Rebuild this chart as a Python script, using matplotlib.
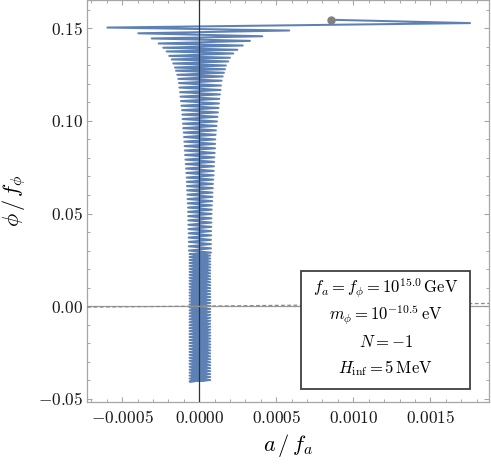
import matplotlib
matplotlib.use('Agg')
import matplotlib.pyplot as plt
from matplotlib.patches import Rectangle
from matplotlib.ticker import MultipleLocator

# turning points of the field trajectory (a/f_a, phi/f_phi)
upper_a = [0.000853, 0.001758, -0.000597, 0.000584, -0.000396, 0.000409, -0.000309, 0.000329,
           -0.000264, 0.000282, -0.000234, 0.000247, -0.000212, 0.000221, -0.000195, 0.000199,
           -0.000179, 0.000188, -0.000169, 0.000173, -0.000158, 0.000167, -0.000151, 0.000160,
           -0.000143, 0.000152, -0.000136, 0.000145, -0.000132, 0.000141, -0.000129, 0.000138,
           -0.000125, 0.000134, -0.000122, 0.000130, -0.000119, 0.000128, -0.000116, 0.000125,
           -0.000112, 0.000121, -0.000110, 0.000118, -0.000108, 0.000115, -0.000106, 0.000112,
           -0.000104, 0.000108, -0.000101, 0.000106, -0.000099, 0.000104, -0.000097, 0.000103,
           -0.000095, 0.000102, -0.000094, 0.000100, -0.000092, 0.000098, -0.000090, 0.000097,
           -0.000088, 0.000095, -0.000086, 0.000094, -0.000084, 0.000093, -0.000082, 0.000091,
           -0.000081, 0.000089, -0.000080, 0.000088, -0.000079, 0.000086, -0.000077, 0.000085,
           -0.000076, 0.000084, -0.000075, 0.000082, -0.000073, 0.000081, -0.000073, 0.000080,
           -0.000072, 0.000079, -0.000071, 0.000079, -0.000071, 0.000078, -0.000070, 0.000077,
           -0.000069, 0.000077, -0.000069, 0.000076, -0.000068, 0.000076, -0.000068, 0.000076,
           -0.000067, 0.000076]
upper_phi = [0.1546, 0.1528, 0.1504, 0.1488, 0.1473, 0.1457, 0.1445, 0.1432,
             0.1418, 0.1407, 0.1395, 0.1384, 0.1375, 0.1364, 0.1351, 0.1341,
             0.1332, 0.1321, 0.1310, 0.1299, 0.1288, 0.1279, 0.1271, 0.1260,
             0.1249, 0.1240, 0.1227, 0.1217, 0.1204, 0.1191, 0.1180, 0.1167,
             0.1155, 0.1143, 0.1131, 0.1119, 0.1107, 0.1094, 0.1082, 0.1070,
             0.1058, 0.1046, 0.1034, 0.1022, 0.1010, 0.0997, 0.0985, 0.0973,
             0.0961, 0.0949, 0.0937, 0.0925, 0.0913, 0.0900, 0.0888, 0.0876,
             0.0864, 0.0852, 0.0840, 0.0827, 0.0816, 0.0803, 0.0791, 0.0779,
             0.0767, 0.0755, 0.0743, 0.0730, 0.0719, 0.0706, 0.0694, 0.0683,
             0.0671, 0.0660, 0.0648, 0.0637, 0.0625, 0.0613, 0.0602, 0.0590,
             0.0578, 0.0567, 0.0555, 0.0544, 0.0532, 0.0521, 0.0509, 0.0498,
             0.0486, 0.0474, 0.0463, 0.0451, 0.0439, 0.0428, 0.0416, 0.0405,
             0.0393, 0.0382, 0.0370, 0.0358, 0.0347, 0.0335, 0.0323, 0.0312,
             0.0300, 0.0289]

# dense band at the bottom: levels of the left / right turning points
band_left_phi = [0.0281, 0.0265, 0.0249, 0.0233, 0.0217, 0.0201, 0.0185, 0.0169, 0.0153,
                 0.0137, 0.0121, 0.0105, 0.0089, 0.0073, 0.0057, 0.0041, 0.0025, 0.0009,
                 -0.0007, -0.0023, -0.0039, -0.0055, -0.0071, -0.0087, -0.0103, -0.0119,
                 -0.0135, -0.0151, -0.0167, -0.0183, -0.0199, -0.0215, -0.0231, -0.0247,
                 -0.0263, -0.0279, -0.0295, -0.0311, -0.0327, -0.0343, -0.0359, -0.0375,
                 -0.0391, -0.0407]
band_right_phi = [0.0273, 0.0257, 0.0241, 0.0225, 0.0209, 0.0193, 0.0177, 0.0161, 0.0145,
                  0.0129, 0.0113, 0.0097, 0.0081, 0.0065, 0.0049, 0.0033, 0.0017, 0.0001,
                  -0.0015, -0.0031, -0.0047, -0.0063, -0.0079, -0.0095, -0.0111, -0.0127,
                  -0.0143, -0.0159, -0.0175, -0.0191, -0.0207, -0.0223, -0.0239, -0.0255,
                  -0.0271, -0.0287, -0.0303, -0.0319, -0.0335, -0.0351, -0.0367, -0.0383,
                  -0.0399]
band_outer_a = (-0.000063, 0.000071)
band_inner_a = (-0.000050, 0.000055)

start_a = 0.000853
start_phi = 0.1546

dash_a = [-0.000727, 0.001883]
dash_phi = [-0.00056, 0.00145]

x_ticks = [-0.0005, 0.0, 0.0005, 0.0010, 0.0015]
x_tick_labels = ['-0.0005', '0.0000', '0.0005', '0.0010', '0.0015']
y_ticks = [-0.05, 0.0, 0.05, 0.10, 0.15]
y_tick_labels = ['-0.05', '0.00', '0.05', '0.10', '0.15']

info_lines = [r'$f_a = f_\phi = 10^{15.0}\,\mathrm{GeV}$',
              r'$m_\phi = 10^{-10.5}\,\mathrm{eV}$',
              r'$N = -1$',
              r'$H_\mathrm{inf} = 5\,\mathrm{MeV}$']

LINE_COLOR = '#5e81b5'
FRAME_COLOR = '#a6a6a6'


def main():
    plt.rcParams['mathtext.fontset'] = 'cm'
    plt.rcParams['font.family'] = 'serif'

    # build the trajectory: upper spiral, band going down, band coming back up
    path_a = list(upper_a)
    path_phi = list(upper_phi)
    for i in range(len(band_right_phi)):
        path_a += [band_outer_a[0], band_outer_a[1]]
        path_phi += [band_left_phi[i], band_right_phi[i]]
    path_a.append(band_outer_a[0])
    path_phi.append(band_left_phi[-1])
    for i in reversed(range(len(band_right_phi))):
        path_a += [band_inner_a[1], band_inner_a[0]]
        path_phi += [band_right_phi[i], band_left_phi[i]]

    fig = plt.figure(figsize=(4.91, 4.69), dpi=100)
    ax = fig.add_axes([87.3 / 491, 1 - 401.7 / 469, 402 / 491, 401.2 / 469])

    ax.plot(path_a, path_phi, color=LINE_COLOR, lw=1.45, zorder=2)
    ax.plot([start_a], [start_phi], 'o', color='#7f7f7f', ms=5, zorder=4)

    ax.axvline(0, color='#333333', lw=0.9, zorder=3)
    ax.axhline(0, color='#9a9a9a', lw=0.9, zorder=3)
    ax.plot(dash_a, dash_phi, color='#8a8a8a', lw=0.9, ls=(0, (3, 2)), zorder=3)

    ax.set_xlim(-0.000727, 0.001883)
    ax.set_ylim(-0.0516, 0.165)

    ax.set_xticks(x_ticks)
    ax.set_xticklabels(['$%s$' % s for s in x_tick_labels])
    ax.set_yticks(y_ticks)
    ax.set_yticklabels(['$%s$' % s for s in y_tick_labels])
    ax.xaxis.set_minor_locator(MultipleLocator(0.0001))
    ax.yaxis.set_minor_locator(MultipleLocator(0.01))
    ax.tick_params(which='both', direction='in', top=True, right=True,
                   color=FRAME_COLOR, labelsize=12.5, labelcolor='#1a1a1a')
    ax.tick_params(which='major', length=3.5, width=0.8)
    ax.tick_params(which='minor', length=2.2, width=0.7)
    ax.tick_params(axis='x', pad=6)
    ax.tick_params(axis='y', pad=3)
    for sp in ax.spines.values():
        sp.set_color(FRAME_COLOR)
        sp.set_linewidth(0.9)

    ax.set_xlabel(r'$a\,/\,f_a$', fontsize=16)
    ax.set_ylabel(r'$\phi\,/\,f_\phi$', fontsize=16)
    ax.xaxis.set_label_coords(0.5, -0.075)
    ax.yaxis.set_label_coords(-0.148, 0.5)

    # parameter box
    ax.add_patch(Rectangle((0.532, 0.0316), 0.421, 0.2938, transform=ax.transAxes,
                           facecolor='white', edgecolor='#404040', lw=1.3, zorder=5))
    for txt, yy in zip(info_lines, [0.2843, 0.2158, 0.1476, 0.0831]):
        ax.text(0.742, yy, txt, transform=ax.transAxes, ha='center', va='center',
                fontsize=12, zorder=6)

    fig.savefig('out.png', dpi=100)


if __name__ == '__main__':
    main()
